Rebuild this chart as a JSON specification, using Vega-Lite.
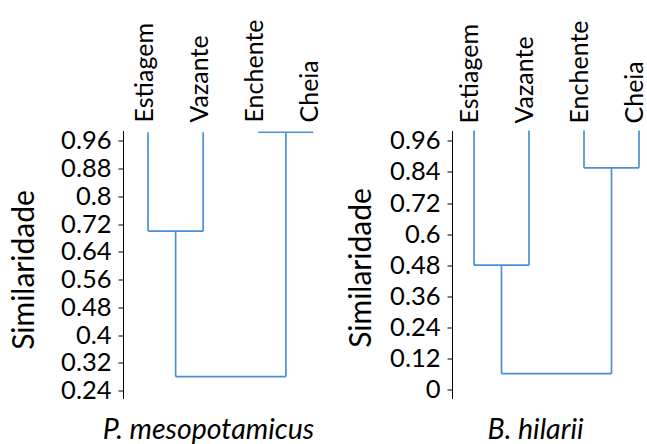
{
  "$schema": "https://vega.github.io/schema/vega-lite/v6.json",
  "padding": {"left": 9, "top": 18.5, "right": 0, "bottom": 0},
  "config": {
    "view": {"stroke": null},
    "font": "Lato",
    "axis": {"grid": false, "labelOverlap": false, "labelFlush": false, "labelColor": "black", "titleColor": "black", "titleFontWeight": "normal", "domainColor": "black", "tickColor": "black"},
    "axisY": {"tickSize": 5, "labelPadding": 7, "labelFontSize": 25.5, "titleFontSize": 30, "titleAngle": 270, "titleAlign": "center", "titleBaseline": "middle", "tickCount": 20},
    "axisX": {"labels": false, "ticks": false, "domain": false, "titleFontStyle": "italic", "titleFontSize": 28.5, "titleAlign": "center", "titleBaseline": "alphabetic"}
  },
  "bounds": "flush",
  "spacing": 111,
  "datasets": {
    "seg1": [
      {"x": 0, "x2": 0, "y": 0.985, "y2": 0.70},
      {"x": 1, "x2": 1, "y": 0.985, "y2": 0.70},
      {"x": 0, "x2": 1, "y": 0.70, "y2": 0.70},
      {"x": 0.5, "x2": 0.5, "y": 0.70, "y2": 0.28},
      {"x": 2, "x2": 3, "y": 0.985, "y2": 0.985},
      {"x": 2.5, "x2": 2.5, "y": 0.985, "y2": 0.28},
      {"x": 0.5, "x2": 2.5, "y": 0.28, "y2": 0.28}
    ],
    "leaf1": [
      {"x": 0, "name": "Estiagem"},
      {"x": 1, "name": "Vazante"},
      {"x": 2, "name": "Enchente"},
      {"x": 3, "name": "Cheia"}
    ],
    "seg2": [
      {"x": 0, "x2": 0, "y": 1.0, "y2": 0.48},
      {"x": 1, "x2": 1, "y": 1.0, "y2": 0.48},
      {"x": 0, "x2": 1, "y": 0.48, "y2": 0.48},
      {"x": 0.5, "x2": 0.5, "y": 0.48, "y2": 0.061},
      {"x": 2, "x2": 2, "y": 1.0, "y2": 0.856},
      {"x": 3, "x2": 3, "y": 1.0, "y2": 0.856},
      {"x": 2, "x2": 3, "y": 0.856, "y2": 0.856},
      {"x": 2.5, "x2": 2.5, "y": 0.856, "y2": 0.061},
      {"x": 0.5, "x2": 2.5, "y": 0.061, "y2": 0.061}
    ],
    "leaf2": [
      {"x": 0, "name": "Estiagem"},
      {"x": 1, "name": "Vazante"},
      {"x": 2, "name": "Enchente"},
      {"x": 3, "name": "Cheia"}
    ]
  },
  "hconcat": [
    {
      "width": 218,
      "height": 268,
      "layer": [
        {
          "data": {"name": "seg1"},
          "mark": {"type": "rule", "color": "#4a8fd6", "strokeWidth": 1.7},
          "encoding": {
            "x": {"field": "x", "type": "quantitative",
              "scale": {"domain": [-0.4545, 3.5], "nice": false, "zero": false},
              "axis": {"title": "P. mesopotamicus", "titleX": 85, "titleY": 40}},
            "x2": {"field": "x2"},
            "y": {"field": "y", "type": "quantitative",
              "scale": {"domain": [0.217, 0.99], "nice": false, "zero": false},
              "axis": {"values": [0.24, 0.32, 0.4, 0.48, 0.56, 0.64, 0.72, 0.8, 0.88, 0.96],
                "labelExpr": "format(datum.value, '.2~f')", "tickCount": 20,
                "title": "Similaridade", "titleX": -99, "titleY": 139}},
            "y2": {"field": "y2"}
          }
        },
        {
          "data": {"name": "leaf1"},
          "mark": {"type": "text", "angle": 270, "align": "left", "baseline": "alphabetic", "dx": 8, "dy": 5, "fontSize": 25, "color": "black"},
          "encoding": {
            "x": {"field": "x", "type": "quantitative"},
            "y": {"datum": 0.99, "type": "quantitative"},
            "text": {"field": "name"}
          }
        }
      ]
    },
    {
      "width": 192.5,
      "height": 268,
      "layer": [
        {
          "data": {"name": "seg2"},
          "mark": {"type": "rule", "color": "#4a8fd6", "strokeWidth": 1.7},
          "encoding": {
            "x": {"field": "x", "type": "quantitative",
              "scale": {"domain": [-0.4, 3.1], "nice": false, "zero": false},
              "axis": {"title": "B. hilarii", "titleX": 83, "titleY": 40}},
            "x2": {"field": "x2"},
            "y": {"field": "y", "type": "quantitative",
              "scale": {"domain": [-0.035, 1.0], "nice": false, "zero": false},
              "axis": {"values": [0, 0.12, 0.24, 0.36, 0.48, 0.6, 0.72, 0.84, 0.96],
                "labelExpr": "format(datum.value, '.2~f')", "tickCount": 20,
                "title": "Similaridade", "titleX": -91, "titleY": 137}},
            "y2": {"field": "y2"}
          }
        },
        {
          "data": {"name": "leaf2"},
          "mark": {"type": "text", "angle": 270, "align": "left", "baseline": "alphabetic", "dx": 7, "dy": 4, "fontSize": 25, "color": "black"},
          "encoding": {
            "x": {"field": "x", "type": "quantitative"},
            "y": {"datum": 1.0, "type": "quantitative"},
            "text": {"field": "name"}
          }
        }
      ]
    }
  ]
}
